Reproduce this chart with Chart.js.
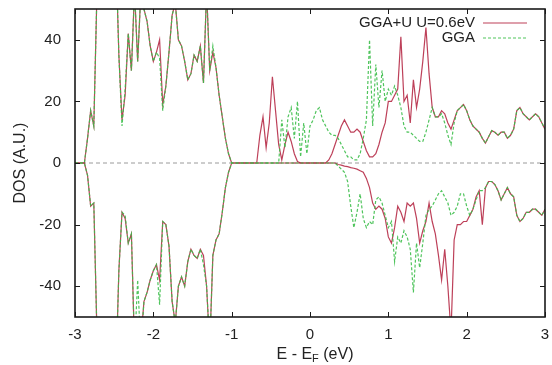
<!DOCTYPE html>
<html>
<head>
<meta charset="utf-8">
<script src="https://cdn.jsdelivr.net/npm/chart.js@4"></script>
<style>
html, body { margin: 0; padding: 0; background: #fff; }
</style>
</head>
<body>
<canvas id="dosChart" width="552" height="365"></canvas>
<script>
// energy grid (eV, relative to E_F)
const energy = [
  -3,-2.96,-2.92,-2.88,-2.84,-2.8,-2.76,-2.72,-2.68,-2.64,
  -2.6,-2.56,-2.52,-2.48,-2.44,-2.4,-2.36,-2.32,-2.28,-2.24,
  -2.2,-2.16,-2.12,-2.08,-2.04,-2,-1.96,-1.92,-1.88,-1.84,
  -1.8,-1.76,-1.72,-1.68,-1.64,-1.6,-1.56,-1.52,-1.48,-1.44,
  -1.4,-1.36,-1.32,-1.28,-1.24,-1.2,-1.16,-1.12,-1.08,-1.04,
  -1,-0.96,-0.92,-0.88,-0.84,-0.8,-0.76,-0.72,-0.68,-0.64,
  -0.6,-0.56,-0.52,-0.48,-0.44,-0.4,-0.36,-0.32,-0.28,-0.24,
  -0.2,-0.16,-0.12,-0.08,-0.04,0,0.04,0.08,0.12,0.16,
  0.2,0.24,0.28,0.32,0.36,0.4,0.44,0.48,0.52,0.56,
  0.6,0.64,0.68,0.72,0.76,0.8,0.84,0.88,0.92,0.96,
  1,1.04,1.08,1.12,1.16,1.2,1.24,1.28,1.32,1.36,
  1.4,1.44,1.48,1.52,1.56,1.6,1.64,1.68,1.72,1.76,
  1.8,1.84,1.88,1.92,1.96,2,2.04,2.08,2.12,2.16,
  2.2,2.24,2.28,2.32,2.36,2.4,2.44,2.48,2.52,2.56,
  2.6,2.64,2.68,2.72,2.76,2.8,2.84,2.88,2.92,2.96,
  3
];

// GGA+U, spin up
const upGGAU = [
  0,0,0,0,8,17,12,55,70,70,
  70,70,70,70,35,14,22,42,30,56,
  33,55,50,46,38,33,36,40,19,25,
  36,48,52,40,38,33,27,29,35,33,
  38,26,56,30,36,31,22,15,8,3,
  0,0,0,0,0,0,0,0,0,9,
  15,5,13,28,17,6,1,6,10,7,
  3,0.5,0,0,0,0,0,0,0,0,
  0,1,3,6,9,12,14,12,10,10,
  11,10,7,4,2,2,3,6,10,13,
  20,20,22,24,41,20,22,13,27,18,
  24,33,44,29,18,15,15,17,16,13,
  11,14,17,18,19,17,14,12,11,10,
  8,6.5,8.5,10.5,10,9,10,10,8,9,
  11,17,18,16,15,14,15,16,15,13,
  11
];

// GGA, spin up
const upGGA = [
  0,0,0,0,8,17,12,55,70,70,
  70,70,70,70,35,12,24,42,30,56,
  33,55,50,46,38,33,36,34,17,25,
  36,48,52,40,38,33,27,29,35,33,
  38,26,56,30,38,31,22,15,8,3,
  0,0,0,0,0,0,0,0,0,0,
  0,0,0,0,0,0,14,5,15,18,
  8,20,2,13,3,12,14,17,18,14,
  12,10,9,9,8,6,4,2,2,1,
  1,3,8,14,40,12,32,18,30,20,
  24,22,25,22,18,12,10,10,9,8,
  7,7,10,14,18,15,15,16,13,9,
  6,13,17,18,19,17,14,12,11,10,
  8,6.5,8.5,10.5,10,9,10,10,8,9,
  11,17,18,16,15,14,15,16,15,13,
  11
];

// GGA+U, spin down
const downGGAU = [
  0,0,0,0,-4,-14,-13,-55,-70,-70,
  -70,-70,-70,-70,-35,-16,-18,-26,-23,-60,
  -60,-58,-45,-42,-38,-35,-33,-38,-19,-20,
  -27,-45,-52,-40,-37,-40,-32,-28,-30,-31,
  -28,-30,-40,-60,-30,-25,-23,-16,-8,-3,
  0,0,0,0,0,0,0,0,0,0,
  0,0,0,0,0,0,0,0,0,0,
  0,0,0,0,0,0,0,0,0,0,
  0,0,0,0,-0.5,-0.7,-1,-1.2,-1.5,-1.7,
  -2,-2.5,-3,-5,-8,-13,-15,-14,-15,-18,
  -24,-26,-21,-14,-16,-19,-13,-14,-13,-18,
  -26,-22,-19,-13,-19,-23,-30,-38,-28,-40,
  -55,-25,-20,-20,-19,-19,-17,-15,-11,-9,
  -20,-8,-6,-6,-7,-9,-12,-10,-8,-10,
  -11,-17,-19,-18,-16,-16,-15,-15,-16,-17,
  -15
];

// GGA, spin down
const downGGA = [
  0,0,0,0,-4,-14,-13,-55,-70,-70,
  -70,-70,-70,-70,-35,-16,-17,-26,-23,-60,
  -38,-60,-45,-42,-38,-35,-33,-46,-19,-20,
  -27,-45,-52,-40,-37,-40,-32,-28,-30,-31,
  -28,-33,-40,-60,-30,-25,-23,-16,-8,-3,
  0,0,0,0,0,0,0,0,0,0,
  0,0,0,0,0,0,0,0,0,0,
  0,0,0,0,0,0,0,0,0,0,
  0,0,0,0,-1,-2,-3,-6,-14,-21,
  -16,-10,-18,-21,-19,-20,-12,-11,-13,-17,
  -21,-19,-32,-24,-26,-22,-24,-28,-42,-26,
  -34,-26,-17,-15,-14,-12,-10,-9,-11,-13,
  -17,-16,-14,-10,-10,-14,-17,-15,-12,-9,
  -9,-8,-6,-6,-7,-9,-12,-10,-8,-10,
  -11,-17,-19,-18,-16,-16,-15,-15,-16,-17,
  -15
];

const xTicks = [-3, -2, -1, 0, 1, 2, 3];
const yTicks = [-40, -20, 0, 20, 40];
const seriesNames = ['GGA+U U=0.6eV', 'GGA'];

const redColor = 'rgba(178,30,60,0.85)';
const greenColor = 'rgba(60,190,74,0.9)';
const fontFamily = "'Liberation Sans', Arial, Helvetica, sans-serif";

function toPoints(values) {
    return energy.map((e, i) => ({ x: e, y: values[i] }));
}

// keep the plot box where the reference has it
function fixBox(scale, size) {
    if (scale.isHorizontal()) scale.height = size;
    else scale.width = size;
    scale.paddingTop = 0;
    scale.paddingBottom = 0;
    scale.paddingLeft = 0;
    scale.paddingRight = 0;
}

// frame, inward ticks, zero line, titles and key, gnuplot style
const gnuplotFrame = {
    id: 'gnuplotFrame',
    beforeDatasetsDraw(chart) {
        const ctx = chart.ctx;
        const a = chart.chartArea;
        const y0 = chart.scales.y.getPixelForValue(0);
        ctx.save();
        ctx.strokeStyle = '#9a9a9a';
        ctx.lineWidth = 1;
        ctx.setLineDash([4, 3]);
        ctx.beginPath();
        ctx.moveTo(a.left, y0);
        ctx.lineTo(a.right, y0);
        ctx.stroke();
        ctx.restore();
    },
    afterDraw(chart) {
        const ctx = chart.ctx;
        const a = chart.chartArea;
        const xs = chart.scales.x;
        const ys = chart.scales.y;
        ctx.save();

        ctx.strokeStyle = '#1a1a1a';
        ctx.lineWidth = 1;
        ctx.beginPath();
        xTicks.forEach(v => {
            const px = Math.round(xs.getPixelForValue(v)) + 0.5;
            ctx.moveTo(px, a.bottom); ctx.lineTo(px, a.bottom - 5);
            ctx.moveTo(px, a.top); ctx.lineTo(px, a.top + 5);
        });
        yTicks.forEach(v => {
            const py = Math.round(ys.getPixelForValue(v)) + 0.5;
            ctx.moveTo(a.left, py); ctx.lineTo(a.left + 5, py);
            ctx.moveTo(a.right, py); ctx.lineTo(a.right - 5, py);
        });
        ctx.stroke();

        ctx.lineWidth = 1.6;
        ctx.strokeRect(a.left, a.top, a.right - a.left, a.bottom - a.top);

        // key
        ctx.fillStyle = '#222';
        ctx.font = '15px ' + fontFamily;
        ctx.textAlign = 'right';
        ctx.textBaseline = 'middle';
        ctx.fillText(seriesNames[0], 475, 23);
        ctx.fillText(seriesNames[1], 475, 38);
        ctx.lineWidth = 1.2;
        ctx.strokeStyle = redColor;
        ctx.beginPath(); ctx.moveTo(483, 23); ctx.lineTo(527, 23); ctx.stroke();
        ctx.strokeStyle = greenColor;
        ctx.setLineDash([3, 2]);
        ctx.beginPath(); ctx.moveTo(483, 38); ctx.lineTo(527, 38); ctx.stroke();
        ctx.setLineDash([]);

        // x title with subscript F
        ctx.textAlign = 'left';
        ctx.textBaseline = 'alphabetic';
        const p1 = 'E - E';
        const p3 = ' (eV)';
        ctx.font = '16px ' + fontFamily;
        const w1 = ctx.measureText(p1).width;
        const w3 = ctx.measureText(p3).width;
        ctx.font = '11px ' + fontFamily;
        const w2 = ctx.measureText('F').width;
        let x = (a.left + a.right) / 2 + 5 - (w1 + w2 + w3) / 2;
        const base = 359;
        ctx.font = '16px ' + fontFamily;
        ctx.fillText(p1, x, base);
        x += w1;
        ctx.font = '11px ' + fontFamily;
        ctx.fillText('F', x, base + 3);
        x += w2;
        ctx.font = '16px ' + fontFamily;
        ctx.fillText(p3, x, base);

        // y title
        ctx.translate(21, (a.top + a.bottom) / 2);
        ctx.rotate(-Math.PI / 2);
        ctx.textAlign = 'center';
        ctx.textBaseline = 'middle';
        ctx.fillText('DOS (A.U.)', 0, 0);
        ctx.restore();
    }
};

const ctx = document.getElementById('dosChart');

new Chart(ctx, {
    type: 'line',
    data: {
        datasets: [
            {
                label: seriesNames[0] + ' up',
                data: toPoints(upGGAU),
                borderColor: redColor,
                borderWidth: 1.2,
                order: 2
            },
            {
                label: seriesNames[0] + ' down',
                data: toPoints(downGGAU),
                borderColor: redColor,
                borderWidth: 1.2,
                order: 2
            },
            {
                label: seriesNames[1] + ' up',
                data: toPoints(upGGA),
                borderColor: greenColor,
                borderWidth: 1.2,
                borderDash: [3, 2],
                order: 1
            },
            {
                label: seriesNames[1] + ' down',
                data: toPoints(downGGA),
                borderColor: greenColor,
                borderWidth: 1.2,
                borderDash: [3, 2],
                order: 1
            }
        ]
    },
    options: {
        responsive: false,
        animation: false,
        layout: { padding: { top: 9, right: 7, left: 0, bottom: 0 } },
        elements: { point: { radius: 0 }, line: { tension: 0 } },
        plugins: { legend: { display: false }, tooltip: { enabled: false } },
        scales: {
            x: {
                type: 'linear',
                min: -3,
                max: 3,
                afterBuildTicks: scale => { scale.ticks = xTicks.map(v => ({ value: v })); },
                afterFit: scale => fixBox(scale, 48),
                grid: { display: false, drawTicks: false },
                border: { display: false },
                ticks: { color: '#222', padding: 9, font: { size: 15, family: fontFamily } }
            },
            y: {
                min: -50,
                max: 50,
                afterBuildTicks: scale => { scale.ticks = yTicks.map(v => ({ value: v })); },
                afterFit: scale => fixBox(scale, 75),
                grid: { display: false, drawTicks: false },
                border: { display: false },
                ticks: { color: '#222', padding: 14, font: { size: 15, family: fontFamily } }
            }
        }
    },
    plugins: [gnuplotFrame]
});
</script>
</body>
</html>
